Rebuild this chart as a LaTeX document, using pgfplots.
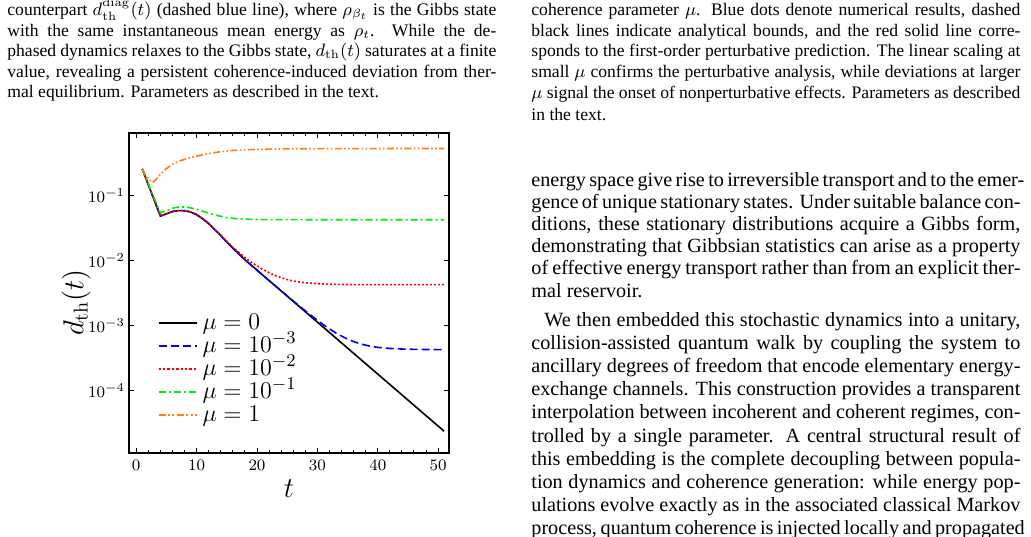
\documentclass[border=0pt]{standalone}
\usepackage[no-math]{fontspec}
\setmainfont{Liberation Serif}
\usepackage{pgfplots}
\pgfplotsset{compat=1.18}
\definecolor{myorange}{RGB}{255,127,14}
\definecolor{mygreen}{RGB}{0,235,0}
\definecolor{myblue}{RGB}{0,0,255}
\definecolor{myred}{RGB}{255,0,0}
\newcommand{\capfont}{\fontsize{8.8}{10}\selectfont}
\newcommand{\bodyfont}{\fontsize{10.1}{11}\selectfont}
\newcommand{\jl}[4]{\node[anchor=base west,inner sep=0pt] at (#1,#2) {#3\makebox[244.5pt][s]{#4}};}
\newcommand{\nl}[4]{\node[anchor=base west,inner sep=0pt] at (#1,#2) {#3#4};}
\begin{document}
\begin{tikzpicture}
\begin{scope}[x=0.5pt,y=-0.5pt]
\useasboundingbox (0,0) rectangle (1031,536);
\clip (0,0) rectangle (1031,536);
% left caption
\jl{7}{15.5}{\capfont}{counterpart $d_{\rm th}^{\rm diag}(t)$ (dashed blue line), where $\rho_{\beta_t}$ is the Gibbs state}
\jl{7}{36}{\capfont}{with the same instantaneous mean energy as $\rho_t$.\ \ While the de-}
\jl{7}{56.5}{\capfont}{phased dynamics relaxes to the Gibbs state, $d_{\rm th}(t)$ saturates at a finite}
\jl{7}{77}{\capfont}{value, revealing a persistent coherence-induced deviation from ther-}
\nl{7}{97.5}{\capfont}{mal equilibrium. Parameters as described in the text.}
% right caption
\jl{531}{15.5}{\capfont}{coherence parameter $\mu$. Blue dots denote numerical results, dashed}
\jl{531}{36.2}{\capfont}{black lines indicate analytical bounds, and the red solid line corre-}
\jl{531}{56.9}{\capfont}{sponds to the first-order perturbative prediction. The linear scaling at}
\jl{531}{77.6}{\capfont}{small $\mu$ confirms the perturbative analysis, while deviations at larger}
\jl{531}{98.3}{\capfont}{$\mu$ signal the onset of nonperturbative effects. Parameters as described}
\nl{531}{120}{\capfont}{in the text.}
% right body
\jl{531}{186}{\bodyfont}{energy space give rise to irreversible transport and to the emer-}
\jl{531}{208.2}{\bodyfont}{gence of unique stationary states. Under suitable balance con-}
\jl{531}{230.4}{\bodyfont}{ditions, these stationary distributions acquire a Gibbs form,}
\jl{531}{252.6}{\bodyfont}{demonstrating that Gibbsian statistics can arise as a property}
\jl{531}{274.8}{\bodyfont}{of effective energy transport rather than from an explicit ther-}
\nl{531}{297}{\bodyfont}{mal reservoir.}
\node[anchor=base west,inner sep=0pt] at (544,326) {\bodyfont\makebox[238pt][s]{We then embedded this stochastic dynamics into a unitary,}};
\jl{531}{349.2}{\bodyfont}{collision-assisted quantum walk by coupling the system to}
\jl{531}{372.4}{\bodyfont}{ancillary degrees of freedom that encode elementary energy-}
\jl{531}{395.6}{\bodyfont}{exchange channels. This construction provides a transparent}
\jl{531}{418.8}{\bodyfont}{interpolation between incoherent and coherent regimes, con-}
\jl{531}{442}{\bodyfont}{trolled by a single parameter. A central structural result of}
\jl{531}{465.2}{\bodyfont}{this embedding is the complete decoupling between popula-}
\jl{531}{488.4}{\bodyfont}{tion dynamics and coherence generation: while energy pop-}
\jl{531}{511.6}{\bodyfont}{ulations evolve exactly as in the associated classical Markov}
\jl{531}{534.8}{\bodyfont}{process, quantum coherence is injected locally and propagated}
\end{scope}
\begin{axis}[
  at={(64.5pt,-226.5pt)}, anchor=south west,
  width=160pt, height=160pt, scale only axis,
  xmin=-1.2, xmax=51.8,
  ymode=log, ymin=1.1e-5, ymax=0.93,
  xtick={0,10,20,30,40,50}, minor x tick num=4,
  ytick={1e-4,1e-3,1e-2,1e-1}, yminorticks=false,
  tick align=inside,
  major tick length=2.5pt, minor tick length=1.3pt,
  tick style={black, line width=0.5pt},
  axis line style={black, line width=0.6pt},
  tick label style={font=\fontsize{8.5}{9}\selectfont},
  yticklabel style={xshift=1.5pt},
  xlabel={$t$}, ylabel={$d_{\rm th}(t)$},
  label style={font=\fontsize{14}{15}\selectfont},
  ylabel style={at={(axis description cs:-0.165,0.47)}, anchor=center},
  xlabel style={at={(axis description cs:0.5,-0.11)}, anchor=center},
  legend style={draw=none, fill=none, at={(0.069,0.455)}, anchor=north west,
    font=\fontsize{12.2}{13}\selectfont, row sep=0.3pt,
    nodes={inner xsep=2.5pt, inner ysep=1pt, text height=7.6pt, text depth=1.6pt}},
  legend cell align=left,
  every axis plot/.append style={line width=0.8pt},
]
\addplot[color=black, legend image code/.code={\draw[black, line width=0.9pt] (0pt,0pt) -- (19pt,0pt);}] coordinates {(1,0.26)(2,0.149)(3,0.0855)(4,0.049)(5,0.053)(6,0.0575)(7,0.0595)(8,0.0592)(9,0.0565)(10,0.0515)(11,0.0445)(12,0.0375)(13,0.0305)(14,0.0245)(15,0.0195)(16,0.0157)(17,0.0128)(18,0.0104)(51,2.38e-5)};
\addlegendentry{$\mu=0$}
\addplot[color=myblue, dash pattern=on 4pt off 2pt, legend image code/.code={\draw[myblue, line width=1pt, dash pattern=on 4pt off 2pt] (0pt,0pt) -- (19pt,0pt);}] coordinates {(1,0.26)(2,0.149)(3,0.0855)(4,0.049)(5,0.053)(6,0.0575)(7,0.0595)(8,0.0592)(9,0.0565)(10,0.0515)(11,0.0445)(12,0.0375)(13,0.0305)(14,0.0245)(15,0.0195)(16,0.0157)(17,0.0128)(18,0.0104)(20,0.00719)(22,0.00498)(24,0.00346)(25,0.00289)(26,0.002416)(27,0.002023)(28,0.001699)(29,0.001434)(30,0.001217)(31,0.001039)(32,0.000897)(33,0.000783)(34,0.000694)(35,0.000624)(36,0.000572)(37,0.000532)(38,0.000503)(39,0.000482)(40,0.000466)(42,0.000448)(44,0.000439)(46,0.000434)(48,0.000432)(51,0.00043)};
\addlegendentry{$\mu=10^{-3}$}
\addplot[color=myred, dash pattern=on 1pt off 1pt, legend image code/.code={\draw[myred, line width=1.1pt, dash pattern=on 1.2pt off 1pt] (0pt,0pt) -- (19pt,0pt);}] coordinates {(1,0.26)(2,0.149)(3,0.0855)(4,0.049)(5,0.053)(6,0.0575)(7,0.0595)(8,0.0592)(9,0.0566)(10,0.0517)(11,0.0447)(12,0.03775)(13,0.0308)(14,0.0249)(15,0.0200)(16,0.0163)(17,0.0135)(18,0.01123)(19,0.00964)(20,0.00837)(21,0.00736)(22,0.00657)(23,0.00596)(24,0.00551)(25,0.00516)(26,0.00491)(27,0.00473)(28,0.00460)(30,0.00445)(32,0.00437)(35,0.00432)(40,0.0043)(51,0.0043)};
\addlegendentry{$\mu=10^{-2}$}
\addplot[color=mygreen, dash pattern=on 3.5pt off 1.5pt on 1pt off 1.5pt, legend image code/.code={\draw[mygreen, line width=1.1pt, dash pattern=on 3.5pt off 1.5pt on 1.2pt off 1.5pt] (0pt,0pt) -- (19pt,0pt);}] coordinates {(1,0.26)(2,0.155)(3,0.092)(4,0.055)(5,0.059)(6,0.0645)(7,0.0675)(8,0.0675)(9,0.0655)(10,0.062)(11,0.058)(12,0.0545)(13,0.051)(14,0.0485)(15,0.0465)(16,0.0452)(17,0.0443)(18,0.0438)(20,0.0433)(23,0.0431)(30,0.043)(51,0.043)};
\addlegendentry{$\mu=10^{-1}$}
\addplot[color=myorange, dash pattern=on 3.5pt off 1.2pt on 0.8pt off 1.2pt on 0.8pt off 1.2pt, legend image code/.code={\draw[myorange, line width=1.1pt, dash pattern=on 3.5pt off 1.2pt on 1pt off 1.2pt on 1pt off 1.2pt] (0pt,0pt) -- (19pt,0pt);}] coordinates {(1,0.26)(1.5,0.215)(2,0.185)(2.6,0.16)(3,0.168)(3.5,0.19)(4,0.215)(5,0.265)(6,0.305)(7,0.34)(8,0.365)(9,0.39)(10,0.41)(12,0.45)(14,0.48)(16,0.50)(18,0.512)(20,0.52)(23,0.527)(26,0.531)(30,0.534)(40,0.536)(51,0.537)};
\addlegendentry{$\mu=1$}
\end{axis}
\end{tikzpicture}
\end{document}
